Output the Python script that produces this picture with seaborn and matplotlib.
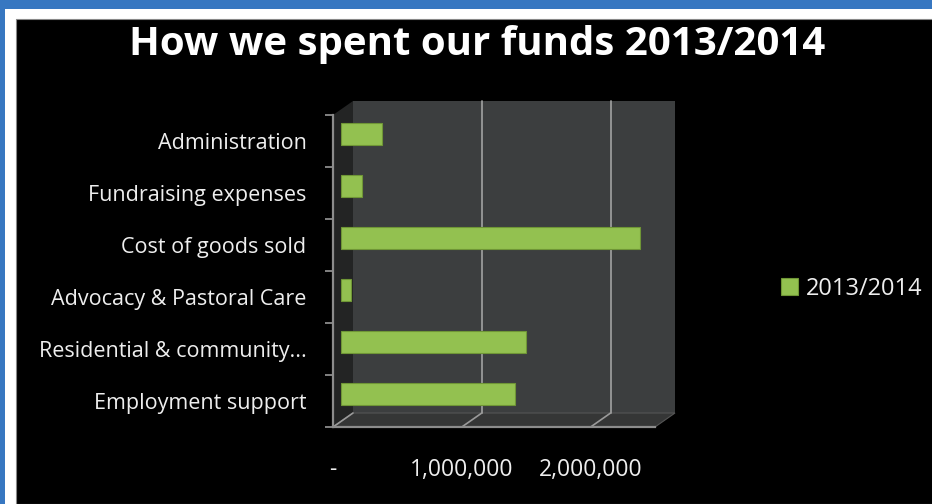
import matplotlib
matplotlib.use("Agg")
import matplotlib.pyplot as plt
import matplotlib.transforms as mtrans
from matplotlib.patches import Rectangle, Polygon
from matplotlib.lines import Line2D
import pandas as pd
import seaborn as sns

# Chart data
categories = ["Administration", "Fundraising expenses", "Cost of goods sold",
              "Advocacy & Pastoral Care", "Residential & community...", "Employment support"]
spend_2013_14 = [320000, 160000, 2320000, 80000, 1440000, 1350000]
x_ticks = [0, 1000000, 2000000]
x_tick_labels = ["-", "1,000,000", "2,000,000"]
series_name = "2013/2014"

W, H, DPI = 932, 504, 100
BAR_GREEN = "#93c150"
WALL = "#3c3e3f"
LINE = "#8c8c8c"
TEXT = "#eeeeee"

sns.set_style("white")
plt.rcParams["font.family"] = ["Open Sans", "DejaVu Sans"]

df = pd.DataFrame({"Category": categories, "Amount": spend_2013_14})

fig = plt.figure(figsize=(W / DPI, H / DPI), dpi=DPI, facecolor="#3777c1")

# Slide frame: blue edge, white gap, black slide
fig.add_artist(Rectangle((5 / W, 0), 1, 1 - 9 / H, transform=fig.transFigure,
                         facecolor="white", edgecolor="none", zorder=-3))
fig.add_artist(Rectangle((16 / W, 0), 1, 1 - 19 / H, transform=fig.transFigure,
                         facecolor="black", edgecolor="#888888", linewidth=0.8, zorder=-2))

# Front plane of the 3D chart
left, right, top, bottom = 333, 655, 115, 427
ax = fig.add_axes([left / W, 1 - bottom / H, (right - left) / W, (bottom - top) / H])
ax.set_facecolor("none")

sns.barplot(data=df, x="Amount", y="Category", orient="h", color=BAR_GREEN,
            saturation=1, width=0.42, label=series_name, ax=ax,
            edgecolor="#6f9636", linewidth=0.8, zorder=3)
ax.set_xlim(0, 2500000)
ax.set_ylim(5.5, -0.5)

# Bars sit halfway into the depth of the chart
bar_shift = ax.transData + mtrans.ScaledTranslation(0.08, 0.07, fig.dpi_scale_trans)
for bar in ax.containers[0]:
    bar.set_transform(bar_shift)

# Depth of the back wall in axes fractions
dx = 20 / (right - left)
dy = 14 / (bottom - top)

ax.add_patch(Rectangle((dx, dy), 1, 1, transform=ax.transAxes, facecolor=WALL,
                       edgecolor="none", zorder=0.2, clip_on=False))
ax.add_patch(Polygon([(0, 0), (0, 1), (dx, 1 + dy), (dx, dy)], closed=True,
                     transform=ax.transAxes, facecolor="#232424", edgecolor="none",
                     zorder=0.3, clip_on=False))
ax.add_patch(Polygon([(0, 0), (1, 0), (1 + dx, dy), (dx, dy)], closed=True,
                     transform=ax.transAxes, facecolor="#353636", edgecolor="#555555",
                     linewidth=0.8, zorder=0.3, clip_on=False))

# Gridlines on the back wall and across the floor
to_axes = ax.transAxes.inverted()
for xv in x_ticks:
    xa = to_axes.transform(ax.transData.transform((xv, 0)))[0]
    if xv > 0:
        ax.add_line(Line2D([xa + dx, xa + dx], [dy, 1 + dy], transform=ax.transAxes,
                           color="#9a9a9a", linewidth=1.3, zorder=0.4, clip_on=False))
    ax.add_line(Line2D([xa, xa + dx], [0, dy], transform=ax.transAxes,
                       color="#9a9a9a", linewidth=1.2, zorder=0.4, clip_on=False))

# Axes styling
for side in ["top", "right"]:
    ax.spines[side].set_visible(False)
for side in ["left", "bottom"]:
    ax.spines[side].set_color(LINE)
    ax.spines[side].set_linewidth(1.6)
    ax.spines[side].set_zorder(1)

ax.set_xticks(x_ticks)
ax.set_xticklabels(x_tick_labels)
ax.set_yticks(range(len(categories)))
ax.set_yticklabels(categories)
ax.set_yticks([i - 0.5 for i in range(len(categories) + 1)], minor=True)
ax.tick_params(axis="x", which="major", length=6, width=1.3, color=LINE, pad=16,
               labelsize=16.5, labelcolor=TEXT)
ax.tick_params(axis="y", which="major", length=0, pad=19, labelsize=15.5, labelcolor=TEXT)
ax.tick_params(axis="y", which="minor", length=6, width=1.3, color=LINE, left=True)
ax.set_xlabel("")
ax.set_ylabel("")

fig.text(477 / W, 1 - 44 / H, "How we spent our funds 2013/2014", ha="center", va="center",
         color="white", fontsize=29, fontweight="bold")

leg = ax.legend(loc="center left", bbox_to_anchor=(781 / W, 1 - 289 / H),
                bbox_transform=fig.transFigure, frameon=False, fontsize=17,
                handlelength=0.7, handleheight=0.7, handletextpad=0.35,
                borderaxespad=0, borderpad=0)
for t in leg.get_texts():
    t.set_color(TEXT)

fig.savefig("out.png", dpi=DPI, facecolor=fig.get_facecolor())
